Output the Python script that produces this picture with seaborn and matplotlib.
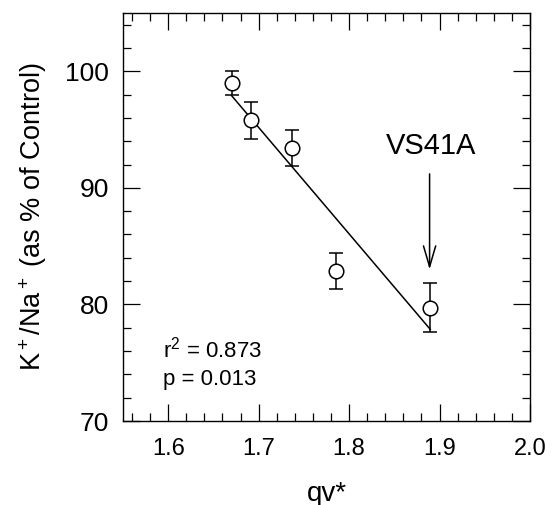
import matplotlib
matplotlib.use('Agg')
import matplotlib.pyplot as plt
import numpy as np
import pandas as pd
import seaborn as sns
from matplotlib.ticker import MultipleLocator

# data
qv = [1.670, 1.692, 1.737, 1.786, 1.890]
k_na = [99.0, 95.8, 93.4, 82.9, 79.7]
k_na_err = [1.0, 1.6, 1.55, 1.55, 2.1]

sns.set_style('ticks')
plt.rcParams['font.family'] = ['Liberation Sans', 'DejaVu Sans']
plt.rcParams['mathtext.fontset'] = 'custom'
plt.rcParams['mathtext.rm'] = 'Liberation Sans'
plt.rcParams['mathtext.it'] = 'Liberation Sans'
plt.rcParams['text.color'] = 'black'
plt.rcParams['axes.labelcolor'] = 'black'
plt.rcParams['xtick.color'] = 'black'
plt.rcParams['ytick.color'] = 'black'

df = pd.DataFrame({'qv': qv, 'ratio': k_na, 'err': k_na_err})

fig = plt.figure(figsize=(5.56, 5.05), dpi=100)
ax = fig.add_axes([0.2212, 0.1663, 0.732, 0.808])

# regression line
sns.regplot(data=df, x='qv', y='ratio', ci=None, scatter=False, ax=ax,
            line_kws=dict(color='black', lw=1.1, zorder=2))

# points with error bars
ax.errorbar(df['qv'], df['ratio'], yerr=df['err'], fmt='none',
            ecolor='black', elinewidth=1.1, capsize=5, capthick=1.1, zorder=3)
sns.scatterplot(data=df, x='qv', y='ratio', ax=ax, marker='o', s=110,
                facecolor='white', edgecolor='black', linewidth=1.1, zorder=4)

# VS41A arrow
ax.annotate('', xy=(1.889, 83.0), xytext=(1.889, 91.2),
            arrowprops=dict(arrowstyle='->,head_length=0.75,head_width=0.22',
                            color='black', lw=1.1, shrinkA=0, shrinkB=0,
                            mutation_scale=20))
ax.text(1.891, 93.6, 'VS41A', fontsize=21, ha='center', va='center')

ax.text(1.594, 76.1, 'r$^2$ = 0.873', fontsize=16, ha='left', va='center')
ax.text(1.594, 73.6, 'p = 0.013', fontsize=16, ha='left', va='center')

ax.set_xlim(1.55, 2.0)
ax.set_ylim(70, 105)
ax.xaxis.set_major_locator(MultipleLocator(0.1))
ax.xaxis.set_minor_locator(MultipleLocator(0.02))
ax.yaxis.set_major_locator(MultipleLocator(10))
ax.yaxis.set_minor_locator(MultipleLocator(2))
ax.tick_params(which='both', direction='in', top=True, right=True,
               width=0.9, color='black')
ax.tick_params(which='major', length=12)
ax.tick_params(which='minor', length=6)
ax.tick_params(axis='x', which='major', labelsize=17, pad=12)
ax.tick_params(axis='y', which='major', labelsize=19, pad=10)
ax.set_xticks([1.6, 1.7, 1.8, 1.9, 2.0])
ax.set_xticklabels(['1.6', '1.7', '1.8', '1.9', '2.0'])

for sp in ax.spines.values():
    sp.set_visible(True)
    sp.set_linewidth(1.0)
    sp.set_color('black')

ax.set_xlabel('qv*', fontsize=20, labelpad=15)
ax.set_ylabel('K$^+$/Na$^+$ (as % of Control)', fontsize=19.5, labelpad=12)

fig.savefig('out.png', dpi=100)
